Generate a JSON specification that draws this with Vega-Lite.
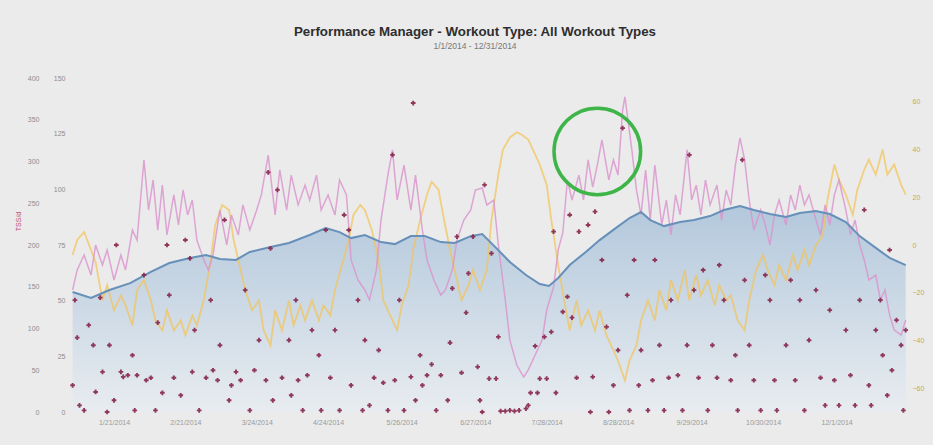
{
  "$schema": "https://vega.github.io/schema/vega-lite/v6.json",
  "width": 840,
  "height": 334,
  "autosize": {"type": "none"},
  "padding": {"left": 68, "top": 78, "right": 25, "bottom": 33},
  "background": "#ebebeb",
  "config": {
    "view": {"stroke": null},
    "font": "Liberation Sans",
    "axis": {"domain": false, "ticks": false, "tickSize": 0, "grid": false, "labelFontSize": 7, "labelColor": "#8c8c8c", "labelFont": "Liberation Sans"}
  },
  "title": {
    "text": "Performance Manager - Workout Type: All Workout Types",
    "subtitle": "1/1/2014 - 12/31/2014",
    "fontSize": 13.3,
    "fontWeight": "bold",
    "color": "#2e2e2e",
    "subtitleFontSize": 8.5,
    "subtitleColor": "#777777",
    "subtitlePadding": 3,
    "anchor": "middle",
    "dx": -13,
    "offset": 24
  },
  "datasets": {
    "ctl": [
      {"day":2,"v":53.9},{"day":10,"v":51.2},{"day":18,"v":54.8},{"day":27,"v":57.9},{"day":36,"v":62.9},{"day":44,"v":66.9},{"day":53,"v":69.2},{"day":60,"v":70.5},{"day":66,"v":68.7},{"day":73,"v":68.3},{"day":79,"v":71.9},{"day":88,"v":74.1},{"day":96,"v":75.9},{"day":105,"v":79.5},{"day":112,"v":82.6},{"day":118,"v":80.8},{"day":123,"v":78.1},{"day":129,"v":79.5},{"day":136,"v":76.3},{"day":142,"v":75.4},{"day":149,"v":79.0},{"day":155,"v":79.0},{"day":162,"v":76.3},{"day":168,"v":75.9},{"day":175,"v":79.0},{"day":180,"v":79.9},{"day":186,"v":73.7},{"day":192,"v":67.4},{"day":199,"v":61.5},{"day":205,"v":57.5},{"day":209,"v":56.6},{"day":213,"v":60.2},{"day":218,"v":66.0},{"day":225,"v":71.9},{"day":231,"v":77.2},{"day":238,"v":82.6},{"day":244,"v":87.1},{"day":249,"v":89.8},{"day":253,"v":86.2},{"day":259,"v":83.5},{"day":266,"v":85.3},{"day":272,"v":86.2},{"day":279,"v":88.0},{"day":285,"v":90.7},{"day":292,"v":92.5},{"day":298,"v":90.7},{"day":305,"v":88.9},{"day":312,"v":87.6},{"day":318,"v":89.4},{"day":325,"v":90.3},{"day":331,"v":88.9},{"day":338,"v":85.3},{"day":344,"v":79.0},{"day":351,"v":73.7},{"day":357,"v":69.2},{"day":364,"v":66.0}
    ],
    "atl": [
      {"day":2,"v":54.8},{"day":4,"v":63.8},{"day":7,"v":70.5},{"day":10,"v":61.5},{"day":12,"v":75.0},{"day":15,"v":66.0},{"day":17,"v":72.8},{"day":20,"v":59.3},{"day":23,"v":70.5},{"day":25,"v":63.8},{"day":28,"v":81.7},{"day":30,"v":77.2},{"day":33,"v":113.2},{"day":35,"v":90.7},{"day":37,"v":104.2},{"day":39,"v":81.7},{"day":41,"v":101.9},{"day":43,"v":79.5},{"day":46,"v":97.5},{"day":48,"v":84.0},{"day":50,"v":99.7},{"day":52,"v":88.5},{"day":54,"v":95.2},{"day":56,"v":77.2},{"day":59,"v":68.3},{"day":61,"v":63.8},{"day":63,"v":70.5},{"day":66,"v":90.7},{"day":69,"v":75.0},{"day":71,"v":88.5},{"day":74,"v":79.5},{"day":76,"v":93.0},{"day":79,"v":81.7},{"day":82,"v":90.7},{"day":84,"v":97.5},{"day":87,"v":115.4},{"day":90,"v":88.5},{"day":92,"v":108.7},{"day":95,"v":90.7},{"day":97,"v":106.4},{"day":100,"v":93.0},{"day":103,"v":101.9},{"day":105,"v":95.2},{"day":108,"v":106.4},{"day":110,"v":90.7},{"day":113,"v":97.5},{"day":116,"v":88.5},{"day":118,"v":104.2},{"day":121,"v":97.5},{"day":123,"v":68.3},{"day":126,"v":59.3},{"day":129,"v":54.8},{"day":131,"v":50.3},{"day":134,"v":63.8},{"day":136,"v":86.2},{"day":139,"v":106.4},{"day":141,"v":117.7},{"day":143,"v":95.2},{"day":146,"v":110.9},{"day":149,"v":90.7},{"day":151,"v":106.4},{"day":154,"v":81.7},{"day":156,"v":68.3},{"day":159,"v":59.3},{"day":162,"v":52.5},{"day":164,"v":54.8},{"day":167,"v":63.8},{"day":169,"v":77.2},{"day":172,"v":86.2},{"day":175,"v":90.7},{"day":177,"v":99.7},{"day":180,"v":100.6},{"day":182,"v":93.0},{"day":185,"v":95.2},{"day":187,"v":75.0},{"day":190,"v":50.3},{"day":192,"v":32.3},{"day":195,"v":21.1},{"day":198,"v":15.7},{"day":200,"v":18.9},{"day":203,"v":25.6},{"day":206,"v":32.3},{"day":208,"v":45.8},{"day":211,"v":56.1},{"day":213,"v":72.8},{"day":215,"v":80.4},{"day":217,"v":104.2},{"day":219,"v":95.2},{"day":222,"v":106.4},{"day":224,"v":95.2},{"day":226,"v":113.2},{"day":228,"v":101.0},{"day":230,"v":110.9},{"day":232,"v":122.2},{"day":235,"v":104.2},{"day":237,"v":113.2},{"day":239,"v":106.4},{"day":241,"v":135.6},{"day":242,"v":141.5},{"day":245,"v":117.7},{"day":247,"v":99.7},{"day":249,"v":88.5},{"day":251,"v":108.7},{"day":253,"v":86.2},{"day":255,"v":110.9},{"day":258,"v":84.0},{"day":260,"v":95.2},{"day":262,"v":79.5},{"day":264,"v":97.5},{"day":266,"v":88.5},{"day":269,"v":117.7},{"day":271,"v":95.2},{"day":273,"v":101.9},{"day":275,"v":88.5},{"day":277,"v":104.2},{"day":279,"v":93.0},{"day":282,"v":101.9},{"day":284,"v":86.2},{"day":286,"v":99.7},{"day":288,"v":93.0},{"day":290,"v":110.9},{"day":292,"v":123.1},{"day":294,"v":113.2},{"day":296,"v":95.2},{"day":298,"v":81.7},{"day":301,"v":90.7},{"day":303,"v":84.0},{"day":305,"v":75.0},{"day":307,"v":88.5},{"day":309,"v":95.2},{"day":312,"v":84.0},{"day":314,"v":97.5},{"day":316,"v":90.7},{"day":318,"v":101.9},{"day":320,"v":93.0},{"day":322,"v":97.5},{"day":325,"v":86.2},{"day":327,"v":79.5},{"day":329,"v":93.0},{"day":331,"v":84.0},{"day":333,"v":97.5},{"day":335,"v":104.2},{"day":338,"v":90.7},{"day":340,"v":79.5},{"day":342,"v":86.2},{"day":344,"v":75.0},{"day":346,"v":68.3},{"day":348,"v":59.3},{"day":351,"v":61.5},{"day":353,"v":50.3},{"day":355,"v":54.8},{"day":357,"v":43.6},{"day":359,"v":36.8},{"day":362,"v":34.6},{"day":364,"v":41.3}
    ],
    "tsb": [
      {"day":2,"v":-4.2},{"day":4,"v":2.1},{"day":7,"v":5.5},{"day":10,"v":-2.1},{"day":12,"v":-7.2},{"day":15,"v":-23.2},{"day":17,"v":-16.8},{"day":20,"v":-27.4},{"day":23,"v":-21.1},{"day":25,"v":-25.3},{"day":28,"v":-33.7},{"day":30,"v":-18.9},{"day":33,"v":-14.7},{"day":36,"v":-23.2},{"day":38,"v":-31.6},{"day":41,"v":-35.8},{"day":43,"v":-27.4},{"day":46,"v":-35.8},{"day":49,"v":-31.6},{"day":51,"v":-37.9},{"day":54,"v":-29.5},{"day":56,"v":-33.7},{"day":59,"v":-23.2},{"day":62,"v":-6.3},{"day":64,"v":8.4},{"day":67,"v":16.8},{"day":70,"v":14.7},{"day":72,"v":2.1},{"day":75,"v":-10.5},{"day":77,"v":-18.9},{"day":80,"v":-27.4},{"day":83,"v":-23.2},{"day":85,"v":-35.8},{"day":88,"v":-42.1},{"day":90,"v":-27.4},{"day":93,"v":-35.8},{"day":96,"v":-23.2},{"day":98,"v":-33.7},{"day":101,"v":-25.3},{"day":103,"v":-31.6},{"day":106,"v":-23.2},{"day":109,"v":-31.6},{"day":111,"v":-25.3},{"day":114,"v":-29.5},{"day":116,"v":-18.9},{"day":119,"v":-8.4},{"day":122,"v":2.1},{"day":124,"v":12.6},{"day":127,"v":16.8},{"day":129,"v":14.7},{"day":132,"v":6.3},{"day":135,"v":-6.3},{"day":137,"v":-23.2},{"day":140,"v":-29.5},{"day":143,"v":-35.8},{"day":145,"v":-25.3},{"day":148,"v":-16.8},{"day":150,"v":-2.1},{"day":153,"v":10.5},{"day":156,"v":21.1},{"day":158,"v":26.5},{"day":161,"v":23.2},{"day":163,"v":12.6},{"day":166,"v":-2.1},{"day":169,"v":-14.7},{"day":171,"v":-23.2},{"day":174,"v":-16.8},{"day":176,"v":-10.5},{"day":179,"v":-18.9},{"day":182,"v":-10.5},{"day":184,"v":10.5},{"day":187,"v":29.5},{"day":189,"v":40.0},{"day":192,"v":45.1},{"day":195,"v":47.2},{"day":197,"v":46.3},{"day":200,"v":44.2},{"day":202,"v":40.0},{"day":205,"v":33.7},{"day":208,"v":25.3},{"day":210,"v":10.5},{"day":213,"v":-8.4},{"day":216,"v":-25.3},{"day":218,"v":-35.8},{"day":221,"v":-23.2},{"day":223,"v":-33.7},{"day":226,"v":-27.4},{"day":229,"v":-35.8},{"day":231,"v":-27.4},{"day":234,"v":-37.9},{"day":236,"v":-42.1},{"day":239,"v":-48.4},{"day":242,"v":-56.8},{"day":244,"v":-48.4},{"day":247,"v":-42.1},{"day":249,"v":-31.6},{"day":252,"v":-23.2},{"day":255,"v":-31.6},{"day":257,"v":-18.9},{"day":260,"v":-27.4},{"day":262,"v":-14.7},{"day":265,"v":-23.2},{"day":268,"v":-10.5},{"day":270,"v":-23.2},{"day":273,"v":-12.6},{"day":275,"v":-21.1},{"day":278,"v":-14.7},{"day":281,"v":-25.3},{"day":283,"v":-16.8},{"day":286,"v":-23.2},{"day":288,"v":-21.1},{"day":291,"v":-31.6},{"day":294,"v":-35.8},{"day":296,"v":-23.2},{"day":299,"v":-10.5},{"day":302,"v":-4.2},{"day":304,"v":-10.5},{"day":307,"v":-16.8},{"day":309,"v":-8.4},{"day":312,"v":-14.7},{"day":315,"v":-4.2},{"day":317,"v":-10.5},{"day":320,"v":-2.1},{"day":322,"v":-8.4},{"day":325,"v":0},{"day":328,"v":4.2},{"day":330,"v":18.9},{"day":333,"v":33.7},{"day":335,"v":27.4},{"day":338,"v":21.1},{"day":341,"v":12.6},{"day":343,"v":23.2},{"day":346,"v":31.6},{"day":348,"v":35.8},{"day":351,"v":29.5},{"day":354,"v":40.0},{"day":356,"v":29.5},{"day":359,"v":33.7},{"day":362,"v":25.3},{"day":364,"v":21.1}
    ],
    "tss": [
      {"day":2,"v":32},{"day":3,"v":134},{"day":4,"v":89},{"day":5,"v":8},{"day":7,"v":2},{"day":9,"v":104},{"day":11,"v":80},{"day":12,"v":24},{"day":14,"v":137},{"day":15,"v":48},{"day":17,"v":0},{"day":18,"v":80},{"day":20,"v":14},{"day":21,"v":200},{"day":23,"v":48},{"day":24,"v":42},{"day":26,"v":44},{"day":28,"v":68},{"day":29,"v":2},{"day":30,"v":44},{"day":33,"v":164},{"day":34,"v":38},{"day":36,"v":41},{"day":38,"v":2},{"day":39,"v":107},{"day":41,"v":23},{"day":43,"v":200},{"day":44,"v":140},{"day":46,"v":41},{"day":49,"v":20},{"day":51,"v":206},{"day":53,"v":184},{"day":54,"v":48},{"day":55,"v":98},{"day":57,"v":2},{"day":60,"v":41},{"day":62,"v":134},{"day":63,"v":50},{"day":65,"v":38},{"day":66,"v":80},{"day":68,"v":230},{"day":70,"v":14},{"day":71,"v":32},{"day":73,"v":48},{"day":75,"v":38},{"day":77,"v":146},{"day":79,"v":2},{"day":81,"v":50},{"day":83,"v":86},{"day":86,"v":38},{"day":87,"v":287},{"day":88,"v":196},{"day":89,"v":14},{"day":91,"v":266},{"day":93,"v":41},{"day":96,"v":86},{"day":97,"v":20},{"day":99,"v":134},{"day":100,"v":38},{"day":102,"v":2},{"day":104,"v":44},{"day":106,"v":98},{"day":109,"v":68},{"day":110,"v":2},{"day":112,"v":218},{"day":114,"v":41},{"day":116,"v":98},{"day":118,"v":2},{"day":120,"v":236},{"day":122,"v":218},{"day":123,"v":32},{"day":126,"v":134},{"day":128,"v":2},{"day":129,"v":86},{"day":131,"v":8},{"day":133,"v":41},{"day":135,"v":74},{"day":137,"v":35},{"day":139,"v":2},{"day":141,"v":308},{"day":142,"v":38},{"day":144,"v":134},{"day":146,"v":2},{"day":149,"v":42},{"day":150,"v":370},{"day":151,"v":14},{"day":153,"v":68},{"day":154,"v":32},{"day":156,"v":44},{"day":158,"v":57},{"day":160,"v":2},{"day":162,"v":44},{"day":165,"v":14},{"day":166,"v":83},{"day":167,"v":148},{"day":169,"v":210},{"day":171,"v":47},{"day":173,"v":119},{"day":174,"v":166},{"day":176,"v":210},{"day":178,"v":54},{"day":179,"v":14},{"day":180,"v":0},{"day":181,"v":272},{"day":183,"v":40},{"day":184,"v":190},{"day":186,"v":40},{"day":187,"v":90},{"day":188,"v":1},{"day":190,"v":1},{"day":192,"v":2},{"day":194,"v":1},{"day":196,"v":2},{"day":199,"v":4},{"day":200,"v":8},{"day":201,"v":23},{"day":203,"v":79},{"day":204,"v":23},{"day":205,"v":40},{"day":207,"v":90},{"day":208,"v":40},{"day":210,"v":96},{"day":211,"v":216},{"day":212,"v":23},{"day":215,"v":120},{"day":217,"v":138},{"day":218,"v":236},{"day":219,"v":113},{"day":221,"v":41},{"day":222,"v":216},{"day":226,"v":224},{"day":227,"v":0},{"day":228,"v":42},{"day":229,"v":240},{"day":232,"v":182},{"day":234,"v":102},{"day":235,"v":0},{"day":237,"v":32},{"day":239,"v":74},{"day":241,"v":340},{"day":243,"v":140},{"day":244,"v":2},{"day":246,"v":182},{"day":248,"v":32},{"day":249,"v":74},{"day":252,"v":2},{"day":254,"v":38},{"day":255,"v":182},{"day":257,"v":80},{"day":259,"v":2},{"day":261,"v":41},{"day":262,"v":134},{"day":265,"v":44},{"day":267,"v":2},{"day":269,"v":80},{"day":270,"v":308},{"day":272,"v":146},{"day":274,"v":41},{"day":276,"v":170},{"day":278,"v":2},{"day":280,"v":80},{"day":282,"v":41},{"day":283,"v":176},{"day":285,"v":134},{"day":288,"v":38},{"day":290,"v":68},{"day":291,"v":2},{"day":293,"v":302},{"day":294,"v":158},{"day":296,"v":80},{"day":298,"v":38},{"day":301,"v":2},{"day":303,"v":164},{"day":305,"v":134},{"day":307,"v":38},{"day":308,"v":2},{"day":312,"v":80},{"day":314,"v":158},{"day":316,"v":38},{"day":318,"v":134},{"day":320,"v":2},{"day":322,"v":86},{"day":325,"v":146},{"day":327,"v":41},{"day":329,"v":8},{"day":331,"v":122},{"day":333,"v":38},{"day":335,"v":8},{"day":338,"v":98},{"day":340,"v":44},{"day":342,"v":8},{"day":344,"v":134},{"day":346,"v":242},{"day":348,"v":32},{"day":349,"v":8},{"day":351,"v":98},{"day":353,"v":134},{"day":354,"v":68},{"day":356,"v":20},{"day":357,"v":194},{"day":358,"v":50},{"day":360,"v":110},{"day":362,"v":80},{"day":363,"v":2},{"day":364,"v":98}
    ],
    "note": [{"day":230,"v":117}]
  },
  "encoding": {
    "x": {
      "field": "day",
      "type": "quantitative",
      "scale": {"domain": [0, 365], "nice": false, "zero": false},
      "axis": {
        "title": null,
        "values": [20, 51, 82, 113, 145, 177, 208, 239, 271, 302, 334],
        "labelExpr": "timeFormat(datetime(2014, 0, 1 + datum.value), '%-m/%-d/%Y')",
        "labelPadding": 6,
        "labelColor": "#9a9a9a"
      }
    }
  },
  "layer": [
    {
      "data": {"name": "ctl"},
      "mark": {
        "type": "area",
        "color": {
          "gradient": "linear", "x1": 0, "y1": 0, "x2": 0, "y2": 1,
          "stops": [{"offset": 0, "color": "#b3c8dc"}, {"offset": 1, "color": "#e8ecf0"}]
        }
      },
      "encoding": {
        "y": {
          "field": "v", "type": "quantitative",
          "scale": {"domain": [0, 150], "nice": false},
          "axis": {"orient": "left", "title": null, "values": [0, 25, 50, 75, 100, 125, 150], "labelPadding": 3}
        }
      }
    },
    {
      "data": {"name": "tsb"},
      "mark": {"type": "line", "color": "#f2c458", "strokeWidth": 1.8, "opacity": 0.72},
      "encoding": {
        "y": {
          "field": "v", "type": "quantitative",
          "scale": {"domain": [-70, 70], "nice": false},
          "axis": {"orient": "right", "title": null, "values": [-60, -40, -20, 0, 20, 40, 60], "labelPadding": 4, "labelColor": "#c9a752"}
        }
      }
    },
    {
      "data": {"name": "atl"},
      "mark": {"type": "line", "color": "#da92cd", "strokeWidth": 1.5, "opacity": 0.8},
      "encoding": {
        "y": {"field": "v", "type": "quantitative", "scale": {"domain": [0, 150], "nice": false}, "axis": null}
      }
    },
    {
      "data": {"name": "ctl"},
      "mark": {"type": "line", "color": "#6690b9", "strokeWidth": 2},
      "encoding": {
        "y": {"field": "v", "type": "quantitative", "scale": {"domain": [0, 150], "nice": false}, "axis": null}
      }
    },
    {
      "data": {"name": "tss"},
      "mark": {"type": "point", "shape": "cross", "filled": true, "size": 22, "color": "#86254a", "opacity": 0.9},
      "encoding": {
        "y": {
          "field": "v", "type": "quantitative",
          "scale": {"domain": [0, 400], "nice": false},
          "axis": {"orient": "left", "offset": 26, "title": "TSS/d", "titleColor": "#c0506e", "titleFontSize": 7, "titleFontWeight": "normal", "titlePadding": 6, "titleY": 143, "values": [0, 50, 100, 150, 200, 250, 300, 350, 400], "labelPadding": 3}
        }
      }
    },
    {
      "data": {"name": "note"},
      "mark": {"type": "point", "shape": "circle", "filled": false, "size": 7500, "stroke": "#3db548", "strokeWidth": 3.5, "opacity": 1},
      "encoding": {
        "y": {"field": "v", "type": "quantitative", "scale": {"domain": [0, 150], "nice": false}, "axis": null}
      }
    }
  ],
  "resolve": {"scale": {"y": "independent"}}
}
